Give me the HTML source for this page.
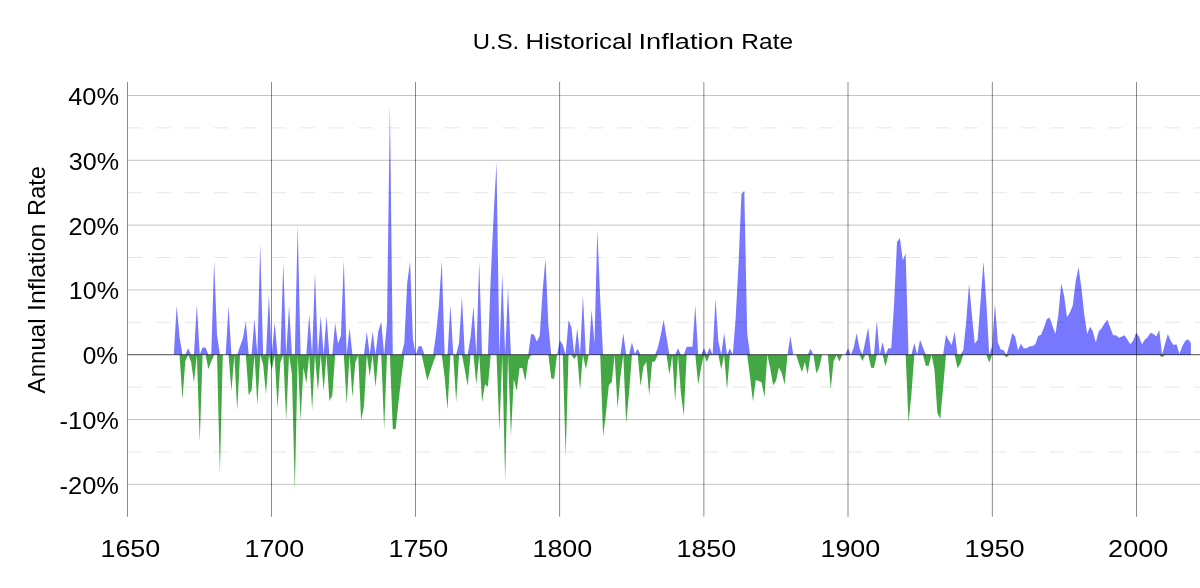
<!DOCTYPE html>
<html><head><meta charset="utf-8"><title>U.S. Historical Inflation Rate</title>
<style>html,body{margin:0;padding:0;background:#fff;}body{width:1200px;height:588px;position:relative;overflow:hidden;}</style></head><body>
<svg width="1200" height="588" viewBox="0 0 1200 588" font-family="'Liberation Sans', sans-serif" font-size="22.3" fill="#000" style="position:absolute;left:0;top:0;font-variant-ligatures:none;font-kerning:none;will-change:transform">
<rect width="1200" height="588" fill="#fff"/>
<polygon points="173.80,354.72 173.80,354.72 176.68,305.68 179.56,337.02 182.44,354.72 185.33,354.72 188.21,348.22 191.09,354.72 193.97,354.72 196.85,304.64 199.73,354.72 202.61,347.38 205.50,347.38 208.38,354.72 211.26,354.72 214.14,261.26 217.02,335.07 219.90,354.72 222.78,354.72 225.66,354.72 228.55,306.26 231.43,354.72 234.31,354.72 237.19,354.72 240.07,346.34 242.95,338.31 245.83,321.28 248.71,354.72 251.60,354.72 254.48,318.63 257.36,354.72 260.24,243.78 263.12,354.72 266.00,354.72 268.88,294.93 271.76,354.72 274.65,322.45 277.53,354.72 280.41,354.72 283.29,262.55 286.17,354.72 289.05,305.68 291.93,354.72 294.82,354.72 297.70,225.32 300.58,354.72 303.46,354.72 306.34,354.72 309.22,314.68 312.10,354.72 314.98,272.53 317.87,354.72 320.75,315.65 323.63,354.72 326.51,315.65 329.39,354.72 332.27,354.72 335.15,323.03 338.03,343.82 340.92,335.72 343.80,259.96 346.68,354.72 349.56,328.08 352.44,354.72 355.32,354.72 358.20,354.72 361.09,354.72 363.97,354.72 366.85,331.84 369.73,354.72 372.61,331.84 375.49,354.72 378.37,331.19 381.25,321.48 384.14,354.72 387.02,322.12 389.90,104.56 392.78,354.72 395.66,354.72 398.54,354.72 401.42,354.72 404.30,343.17 407.19,283.27 410.07,261.45 412.95,339.61 415.83,354.72 418.71,346.34 421.59,346.34 424.47,354.72 427.36,354.72 430.24,354.72 433.12,354.72 436.00,334.43 438.88,305.29 441.76,260.61 444.64,354.72 447.52,354.72 450.41,304.64 453.29,354.72 456.17,354.72 459.05,342.84 461.93,296.61 464.81,354.72 467.69,354.72 470.57,337.02 473.46,306.58 476.34,354.72 479.22,261.45 482.10,354.72 484.98,354.72 487.86,354.72 490.74,277.45 493.63,215.29 496.51,162.19 499.39,354.72 502.27,273.56 505.15,354.72 508.03,287.81 510.91,354.72 513.79,354.72 516.68,354.72 519.56,354.72 522.44,354.72 525.32,354.72 528.20,354.72 531.08,333.97 533.96,334.43 536.84,341.55 539.73,335.72 542.61,291.04 545.49,258.47 548.37,325.36 551.25,354.72 554.13,354.72 557.01,354.72 559.89,340.25 562.78,344.79 565.66,354.72 568.54,320.18 571.42,327.30 574.30,354.72 577.18,328.60 580.06,354.72 582.95,295.58 585.83,354.72 588.71,354.72 591.59,309.82 594.47,343.49 597.35,229.53 600.23,299.46 603.11,354.72 606.00,354.72 608.88,354.72 611.76,354.72 614.64,354.72 617.52,354.72 620.40,354.72 623.28,333.13 626.16,354.72 629.05,354.72 631.93,342.20 634.81,353.85 637.69,348.87 640.57,354.72 643.45,354.72 646.33,354.72 649.22,354.72 652.10,354.72 654.98,354.72 657.86,347.70 660.74,335.07 663.62,319.73 666.50,337.02 669.38,354.72 672.27,354.72 675.15,354.72 678.03,348.35 680.91,354.72 683.79,354.72 686.67,346.73 689.55,346.73 692.43,346.73 695.32,305.61 698.20,354.72 701.08,354.72 703.96,348.22 706.84,354.72 709.72,347.57 712.60,354.72 715.49,298.81 718.37,341.55 721.25,354.72 724.13,332.94 727.01,354.72 729.89,348.22 732.77,354.72 735.65,318.24 738.54,263.85 741.42,193.92 744.30,190.68 747.18,333.13 750.06,354.72 752.94,354.72 755.82,354.72 758.70,354.72 761.59,354.72 764.47,354.72 767.35,354.72 770.23,354.72 773.11,354.72 775.99,354.72 778.87,354.72 781.76,354.72 784.64,354.72 787.52,354.72 790.40,336.05 793.28,354.72 796.16,354.72 799.04,354.72 801.92,354.72 804.81,354.72 807.69,354.72 810.57,348.67 813.45,354.72 816.33,354.72 819.21,354.72 822.09,354.72 824.97,354.72 827.86,354.72 830.74,354.72 833.62,354.72 836.50,354.72 839.38,354.72 842.26,354.72 845.14,354.72 848.03,348.22 850.91,354.72 853.79,347.57 856.67,333.13 859.55,348.35 862.43,354.72 865.31,341.55 868.19,327.43 871.08,354.72 873.96,354.72 876.84,320.63 879.72,354.72 882.60,341.94 885.48,354.72 888.36,348.24 891.24,348.24 894.13,303.52 897.01,241.96 899.89,238.07 902.77,260.10 905.65,253.62 908.53,354.72 911.41,354.72 914.29,343.06 917.18,354.72 920.06,339.81 922.94,347.59 925.82,354.72 928.70,354.72 931.58,354.72 934.46,354.72 937.35,354.72 940.23,354.72 943.11,354.72 945.99,334.63 948.87,340.46 951.75,345.00 954.63,331.39 957.51,354.72 960.40,354.72 963.28,350.18 966.16,322.32 969.04,284.08 971.92,315.19 974.80,343.70 977.68,339.81 980.56,300.93 983.45,261.40 986.33,302.23 989.21,354.72 992.09,346.30 994.97,303.52 997.85,342.41 1000.73,349.54 1003.62,350.18 1006.50,354.72 1009.38,345.00 1012.26,333.33 1015.14,336.57 1018.02,350.18 1020.90,343.70 1023.78,348.24 1026.67,348.24 1029.55,346.30 1032.43,346.30 1035.31,344.35 1038.19,335.93 1041.07,334.63 1043.95,327.50 1046.83,319.08 1049.72,317.78 1052.60,326.21 1055.48,333.98 1058.36,314.54 1061.24,283.43 1064.12,295.75 1067.00,317.13 1069.89,312.60 1072.77,305.47 1075.65,281.49 1078.53,267.23 1081.41,287.97 1084.29,314.54 1087.17,333.98 1090.05,326.85 1092.94,331.39 1095.82,342.41 1098.70,331.39 1101.58,328.15 1104.46,323.61 1107.34,319.73 1110.22,327.50 1113.10,335.28 1115.99,335.28 1118.87,337.87 1121.75,336.57 1124.63,335.28 1127.51,339.81 1130.39,344.35 1133.27,340.46 1136.15,332.69 1139.04,336.57 1141.92,344.35 1144.80,339.81 1147.68,337.22 1150.56,332.69 1153.44,333.98 1156.32,336.57 1159.21,330.09 1162.09,354.72 1164.97,344.35 1167.85,333.98 1170.73,341.11 1173.61,345.00 1176.49,344.35 1179.37,354.07 1182.26,346.30 1185.14,341.11 1188.02,339.17 1190.90,343.06 1190.90,354.72" fill="#7878ff"/>
<polygon points="173.80,354.72 173.80,354.72 176.68,354.72 179.56,354.72 182.44,399.44 185.33,360.97 188.21,354.72 191.09,362.08 193.97,382.54 196.85,354.72 199.73,441.78 202.61,354.72 205.50,354.72 208.38,369.07 211.26,361.62 214.14,354.72 217.02,354.72 219.90,473.51 222.78,354.72 225.66,354.72 228.55,354.72 231.43,391.28 234.31,355.15 237.19,410.44 240.07,354.72 242.95,354.72 245.83,354.72 248.71,395.16 251.60,390.11 254.48,354.72 257.36,405.52 260.24,354.72 263.12,364.21 266.00,394.52 268.88,354.72 271.76,370.30 274.65,354.72 277.53,408.44 280.41,362.27 283.29,354.72 286.17,420.42 289.05,354.72 291.93,373.92 294.82,490.35 297.70,354.72 300.58,420.42 303.46,367.45 306.34,383.31 309.22,354.72 312.10,410.44 314.98,354.72 317.87,391.28 320.75,354.72 323.63,391.28 326.51,354.72 329.39,400.99 332.27,395.62 335.15,354.72 338.03,354.72 340.92,354.72 343.80,354.72 346.68,403.97 349.56,354.72 352.44,397.37 355.32,362.27 358.20,355.15 361.09,420.42 363.97,406.30 366.85,354.72 369.73,376.26 372.61,354.72 375.49,387.39 378.37,354.72 381.25,354.72 384.14,429.22 387.02,354.72 389.90,354.72 392.78,428.96 395.66,428.96 398.54,401.77 401.42,377.16 404.30,354.72 407.19,354.72 410.07,354.72 412.95,354.72 415.83,354.72 418.71,354.72 421.59,354.72 424.47,367.45 427.36,380.72 430.24,371.33 433.12,362.92 436.00,354.72 438.88,354.72 441.76,354.72 444.64,377.16 447.52,409.41 450.41,354.72 453.29,354.72 456.17,402.29 459.05,354.72 461.93,354.72 464.81,369.72 467.69,386.10 470.57,354.72 473.46,354.72 476.34,384.16 479.22,354.72 482.10,402.29 484.98,384.28 487.86,386.75 490.74,354.72 493.63,354.72 496.51,354.72 499.39,431.29 502.27,354.72 505.15,481.28 508.03,354.72 510.91,436.28 513.79,379.10 516.68,390.63 519.56,368.10 522.44,368.10 525.32,381.31 528.20,360.33 531.08,354.72 533.96,354.72 536.84,354.72 539.73,354.72 542.61,354.72 545.49,354.72 548.37,354.72 551.25,378.13 554.13,379.10 557.01,354.72 559.89,354.72 562.78,354.72 565.66,456.35 568.54,354.72 571.42,354.72 574.30,359.03 577.18,354.72 580.06,389.98 582.95,354.72 585.83,369.26 588.71,354.72 591.59,354.72 594.47,354.72 597.35,354.72 600.23,354.72 603.11,436.28 606.00,412.77 608.88,384.93 611.76,382.34 614.64,354.72 617.52,408.37 620.40,376.51 623.28,354.72 626.16,423.33 629.05,393.35 631.93,354.72 634.81,354.72 637.69,354.72 640.57,386.10 643.45,366.48 646.33,362.08 649.22,395.16 652.10,361.95 654.98,361.30 657.86,354.72 660.74,354.72 663.62,354.72 666.50,354.72 669.38,374.44 672.27,355.79 675.15,401.38 678.03,354.72 680.91,393.35 683.79,415.88 686.67,354.72 689.55,354.72 692.43,354.72 695.32,354.72 698.20,384.80 701.08,367.45 703.96,354.72 706.84,362.08 709.72,354.72 712.60,354.72 715.49,354.72 718.37,354.72 721.25,369.39 724.13,354.72 727.01,389.79 729.89,354.72 732.77,354.72 735.65,354.72 738.54,354.72 741.42,354.72 744.30,354.72 747.18,354.72 750.06,377.16 752.94,401.38 755.82,380.08 758.70,381.05 761.59,382.34 764.47,397.37 767.35,354.72 770.23,368.55 773.11,385.26 775.99,381.05 778.87,367.13 781.76,373.28 784.64,384.48 787.52,354.72 790.40,354.72 793.28,354.72 796.16,354.72 799.04,363.89 801.92,372.37 804.81,362.08 807.69,374.31 810.57,354.72 813.45,354.72 816.33,373.60 819.21,367.45 822.09,354.72 824.97,354.72 827.86,354.72 830.74,389.14 833.62,360.97 836.50,355.15 839.38,361.49 842.26,354.72 845.14,354.72 848.03,354.72 850.91,354.72 853.79,354.72 856.67,354.72 859.55,354.72 862.43,360.97 865.31,354.72 868.19,354.72 871.08,367.71 873.96,367.97 876.84,354.72 879.72,354.72 882.60,354.72 885.48,366.48 888.36,354.72 891.24,354.72 894.13,354.72 897.01,354.72 899.89,354.72 902.77,354.72 905.65,354.72 908.53,422.77 911.41,394.25 914.29,354.72 917.18,354.72 920.06,354.72 922.94,354.72 925.82,365.74 928.70,365.74 931.58,354.72 934.46,369.63 937.35,413.04 940.23,418.88 943.11,387.77 945.99,354.72 948.87,354.72 951.75,354.72 954.63,354.72 957.51,368.33 960.40,363.79 963.28,354.72 966.16,354.72 969.04,354.72 971.92,354.72 974.80,354.72 977.68,354.72 980.56,354.72 983.45,354.72 986.33,354.72 989.21,362.50 992.09,354.72 994.97,354.72 997.85,354.72 1000.73,354.72 1003.62,354.72 1006.50,357.31 1009.38,354.72 1012.26,354.72 1015.14,354.72 1018.02,354.72 1020.90,354.72 1023.78,354.72 1026.67,354.72 1029.55,354.72 1032.43,354.72 1035.31,354.72 1038.19,354.72 1041.07,354.72 1043.95,354.72 1046.83,354.72 1049.72,354.72 1052.60,354.72 1055.48,354.72 1058.36,354.72 1061.24,354.72 1064.12,354.72 1067.00,354.72 1069.89,354.72 1072.77,354.72 1075.65,354.72 1078.53,354.72 1081.41,354.72 1084.29,354.72 1087.17,354.72 1090.05,354.72 1092.94,354.72 1095.82,354.72 1098.70,354.72 1101.58,354.72 1104.46,354.72 1107.34,354.72 1110.22,354.72 1113.10,354.72 1115.99,354.72 1118.87,354.72 1121.75,354.72 1124.63,354.72 1127.51,354.72 1130.39,354.72 1133.27,354.72 1136.15,354.72 1139.04,354.72 1141.92,354.72 1144.80,354.72 1147.68,354.72 1150.56,354.72 1153.44,354.72 1156.32,354.72 1159.21,354.72 1162.09,357.31 1164.97,354.72 1167.85,354.72 1170.73,354.72 1173.61,354.72 1176.49,354.72 1179.37,354.72 1182.26,354.72 1185.14,354.72 1188.02,354.72 1190.90,354.72 1190.90,354.72" fill="#43a843"/>
<line x1="127.5" x2="1200" y1="451.93" y2="451.93" stroke="#000" stroke-opacity="0.17" stroke-width="0.6" stroke-dasharray="14.414 14.414"/>
<line x1="127.5" x2="1200" y1="387.12" y2="387.12" stroke="#000" stroke-opacity="0.17" stroke-width="0.6" stroke-dasharray="14.414 14.414"/>
<line x1="127.5" x2="1200" y1="322.32" y2="322.32" stroke="#000" stroke-opacity="0.17" stroke-width="0.6" stroke-dasharray="14.414 14.414"/>
<line x1="127.5" x2="1200" y1="257.51" y2="257.51" stroke="#000" stroke-opacity="0.17" stroke-width="0.6" stroke-dasharray="14.414 14.414"/>
<line x1="127.5" x2="1200" y1="192.71" y2="192.71" stroke="#000" stroke-opacity="0.17" stroke-width="0.6" stroke-dasharray="14.414 14.414"/>
<line x1="127.5" x2="1200" y1="127.90" y2="127.90" stroke="#000" stroke-opacity="0.17" stroke-width="0.6" stroke-dasharray="14.414 14.414"/>
<line x1="127.5" x2="1200" y1="95.50" y2="95.50" stroke="#000" stroke-opacity="0.4" stroke-width="0.6"/>
<line x1="127.5" x2="1200" y1="160.31" y2="160.31" stroke="#000" stroke-opacity="0.4" stroke-width="0.6"/>
<line x1="127.5" x2="1200" y1="225.11" y2="225.11" stroke="#000" stroke-opacity="0.4" stroke-width="0.6"/>
<line x1="127.5" x2="1200" y1="289.92" y2="289.92" stroke="#000" stroke-opacity="0.4" stroke-width="0.6"/>
<line x1="127.5" x2="1200" y1="419.53" y2="419.53" stroke="#000" stroke-opacity="0.4" stroke-width="0.6"/>
<line x1="127.5" x2="1200" y1="484.33" y2="484.33" stroke="#000" stroke-opacity="0.4" stroke-width="0.6"/>
<line x1="127.5" x2="1200" y1="354.72" y2="354.72" stroke="#000" stroke-opacity="0.56" stroke-width="1.2"/>
<line x1="127.50" x2="127.50" y1="82" y2="516.7" stroke="#000" stroke-opacity="0.46" stroke-width="1"/>
<line x1="271.50" x2="271.50" y1="82" y2="516.7" stroke="#000" stroke-opacity="0.46" stroke-width="1"/>
<line x1="415.50" x2="415.50" y1="82" y2="516.7" stroke="#000" stroke-opacity="0.46" stroke-width="1"/>
<line x1="559.60" x2="559.60" y1="82" y2="516.7" stroke="#000" stroke-opacity="0.46" stroke-width="1"/>
<line x1="703.85" x2="703.85" y1="82" y2="516.7" stroke="#000" stroke-opacity="0.46" stroke-width="1"/>
<line x1="848.00" x2="848.00" y1="82" y2="516.7" stroke="#000" stroke-opacity="0.46" stroke-width="1"/>
<line x1="992.35" x2="992.35" y1="82" y2="516.7" stroke="#000" stroke-opacity="0.46" stroke-width="1"/>
<line x1="1136.50" x2="1136.50" y1="82" y2="516.7" stroke="#000" stroke-opacity="0.46" stroke-width="1"/>
<g>
<text x="472.84" y="49.25" textLength="46.41" lengthAdjust="spacingAndGlyphs" font-size="21.8">U.S.</text>
<text x="525.64" y="49.25" textLength="106.58" lengthAdjust="spacingAndGlyphs" font-size="21.8">Historical</text>
<text x="638.52" y="49.25" textLength="95.39" lengthAdjust="spacingAndGlyphs" font-size="21.8">Inflation</text>
<text x="741.36" y="49.25" textLength="51.68" lengthAdjust="spacingAndGlyphs" font-size="21.8">Rate</text>
<text x="68.16" y="104.95" textLength="50.85" lengthAdjust="spacingAndGlyphs" font-size="23.4">40%</text>
<text x="68.71" y="169.76" textLength="50.30" lengthAdjust="spacingAndGlyphs" font-size="23.4">30%</text>
<text x="68.43" y="234.56" textLength="50.58" lengthAdjust="spacingAndGlyphs" font-size="23.4">20%</text>
<text x="68.75" y="299.37" textLength="50.26" lengthAdjust="spacingAndGlyphs" font-size="23.4">10%</text>
<text x="82.71" y="364.17" textLength="35.30" lengthAdjust="spacingAndGlyphs" font-size="23.4">0%</text>
<text x="59.62" y="428.98" textLength="59.39" lengthAdjust="spacingAndGlyphs" font-size="23.4">-10%</text>
<text x="59.62" y="493.78" textLength="59.39" lengthAdjust="spacingAndGlyphs" font-size="23.4">-20%</text>
<text x="100.42" y="557.00" textLength="59.92" lengthAdjust="spacingAndGlyphs" font-size="23.4">1650</text>
<text x="244.42" y="557.00" textLength="59.92" lengthAdjust="spacingAndGlyphs" font-size="23.4">1700</text>
<text x="388.42" y="557.00" textLength="59.93" lengthAdjust="spacingAndGlyphs" font-size="23.4">1750</text>
<text x="532.42" y="557.00" textLength="59.92" lengthAdjust="spacingAndGlyphs" font-size="23.4">1800</text>
<text x="676.42" y="557.00" textLength="59.92" lengthAdjust="spacingAndGlyphs" font-size="23.4">1850</text>
<text x="820.42" y="557.00" textLength="59.92" lengthAdjust="spacingAndGlyphs" font-size="23.4">1900</text>
<text x="964.42" y="557.00" textLength="60.21" lengthAdjust="spacingAndGlyphs" font-size="23.4">1950</text>
<text x="1108.10" y="557.00" textLength="60.25" lengthAdjust="spacingAndGlyphs" font-size="23.4">2000</text>
</g>
<g transform="translate(45.1 392.3) rotate(-90)">
<text x="-1.08" y="0.00" textLength="74.85" lengthAdjust="spacingAndGlyphs" font-size="23.2">Annual</text>
<text x="81.25" y="0.00" textLength="87.52" lengthAdjust="spacingAndGlyphs" font-size="23.2">Inflation</text>
<text x="176.36" y="0.00" textLength="49.96" lengthAdjust="spacingAndGlyphs" font-size="23.2">Rate</text>
</g>
</svg>
</body></html>
